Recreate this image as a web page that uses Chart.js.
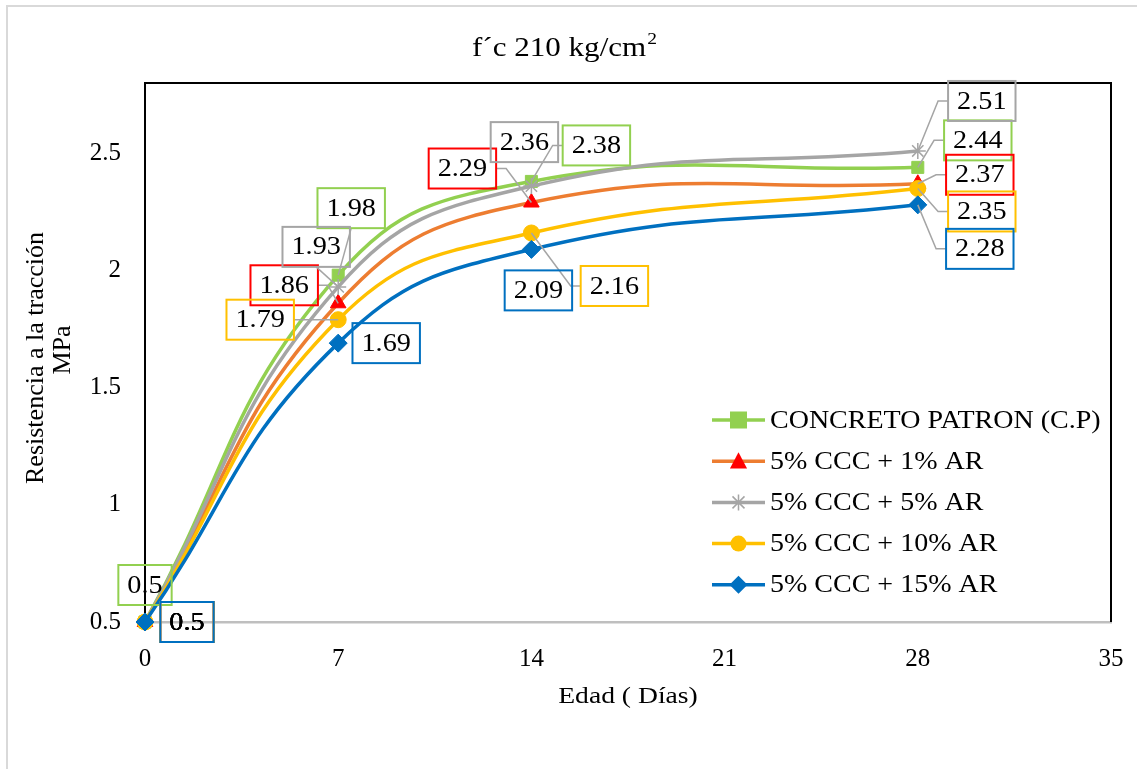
<!DOCTYPE html>
<html>
<head>
<meta charset="utf-8">
<script src="https://cdn.jsdelivr.net/npm/chart.js@4"></script>
<style>
  html,body{margin:0;padding:0;background:#fff;}
  #wrap{width:1137px;height:769px;position:relative;}
</style>
</head>
<body>
<div id="wrap"><canvas id="c" width="1137" height="769"></canvas></div>
<script>
// ---------- DATA ----------
const ages = [0, 7, 14, 28];
const seriesNames = ["CONCRETO PATRON (C.P)", "5% CCC + 1% AR", "5% CCC + 5% AR", "5% CCC + 10% AR", "5% CCC + 15% AR"];
const cpValues   = [0.5, 1.98, 2.38, 2.44];
const ar1Values  = [0.5, 1.86, 2.29, 2.37];
const ar5Values  = [0.5, 1.93, 2.36, 2.51];
const ar10Values = [0.5, 1.79, 2.16, 2.35];
const ar15Values = [0.5, 1.69, 2.09, 2.28];
const xTicks = [0, 7, 14, 21, 28, 35];
const yTicks = [0.5, 1, 1.5, 2, 2.5];
const titleText = "f´c 210 kg/cm";
const titleSup = "2";
const xTitle = "Edad ( Días)";
const yTitleLines = ["Resistencia a la tracción", "MPa"];

// ---------- STYLES ----------
const FONT = "'Liberation Serif', 'Times New Roman', serif";
const HS = 1.13; // horizontal text stretch seen in the reference
const styles = [
  {line:'#92D050', marker:'#92D050', box:'#92D050', pt:'rect', r:8.5},
  {line:'#ED7D31', marker:'#FF0000', box:'#FF0000', pt:'triangle', r:9},
  {line:'#A5A5A5', marker:'#A5A5A5', box:'#A5A5A5', pt:'star', r:8},
  {line:'#FFC000', marker:'#FFC000', box:'#FFC000', pt:'circle', r:8},
  {line:'#0070C0', marker:'#0070C0', box:'#0070C0', pt:'rectRot', r:9}
];
// label offsets (px) relative to each point: [dx, dy]
const labelOffsets = [
  [[0,-37],[13,-67],[65,-36],[60,-27]],
  [[42,0],[-54,-18],[-69,-34],[62,-9]],
  [[42,0],[-22,-40],[-7,-44],[64,-50]],
  [[42,0],[-78,0],[83,53],[64,23]],
  [[42,0],[48,0],[7,41],[62,44]]
];
const allValues = [cpValues, ar1Values, ar5Values, ar10Values, ar15Values];

const datasets = allValues.map((vals, i) => ({
  label: seriesNames[i],
  data: ages.map((a, j) => ({x: a, y: vals[j]})),
  borderColor: styles[i].line,
  backgroundColor: styles[i].marker,
  pointBackgroundColor: styles[i].marker,
  pointBorderColor: styles[i].marker,
  pointBorderWidth: styles[i].pt === 'star' ? 1.5 : 1,
  pointStyle: styles[i].pt,
  pointRadius: styles[i].r,
  borderWidth: 3.5,
  tension: 0.45,
  clip: false,
  fill: false,
  order: allValues.length - 1 - i
}));

function sText(ctx, text, x, y, size, hs, align, base) {
  ctx.save();
  ctx.translate(x, y);
  ctx.scale(hs, 1);
  ctx.font = size + "px " + FONT;
  ctx.textAlign = align || 'center';
  ctx.textBaseline = base || 'middle';
  ctx.fillText(text, 0, 0);
  ctx.restore();
}

function drawMarker(ctx, style, r, x, y) {
  ctx.save();
  if (style === 'rect') {
    ctx.fillRect(x - r, y - r, 2 * r, 2 * r);
  } else if (style === 'triangle') {
    ctx.beginPath();
    ctx.moveTo(x, y - r);
    ctx.lineTo(x + r * 0.95, y + r * 0.8);
    ctx.lineTo(x - r * 0.95, y + r * 0.8);
    ctx.closePath();
    ctx.fill();
  } else if (style === 'circle') {
    ctx.beginPath();
    ctx.arc(x, y, r, 0, Math.PI * 2);
    ctx.fill();
  } else if (style === 'rectRot') {
    ctx.beginPath();
    ctx.moveTo(x, y - r); ctx.lineTo(x + r, y); ctx.lineTo(x, y + r); ctx.lineTo(x - r, y);
    ctx.closePath();
    ctx.fill();
  } else if (style === 'star') {
    ctx.beginPath();
    ctx.moveTo(x, y - r); ctx.lineTo(x, y + r);
    const k = r * 0.75;
    ctx.moveTo(x - k, y - k); ctx.lineTo(x + k, y + k);
    ctx.moveTo(x - k, y + k); ctx.lineTo(x + k, y - k);
    ctx.stroke();
  }
  ctx.restore();
}

const framePlugin = {
  id: 'frame',
  beforeDraw(chart) {
    const ctx = chart.ctx;
    ctx.save();
    ctx.fillStyle = '#fff';
    ctx.fillRect(0, 0, chart.width, chart.height);
    ctx.strokeStyle = '#D9D9D9';
    ctx.lineWidth = 2;
    ctx.beginPath();
    ctx.moveTo(7, chart.height + 5);
    ctx.lineTo(7, 6);
    ctx.lineTo(chart.width + 5, 6);
    ctx.stroke();
    ctx.restore();
  },
  beforeDatasetsDraw(chart) {
    const ctx = chart.ctx;
    const a = chart.chartArea;
    ctx.save();
    ctx.strokeStyle = '#000';
    ctx.lineWidth = 2;
    ctx.beginPath();
    ctx.moveTo(a.left, a.bottom);
    ctx.lineTo(a.left, a.top);
    ctx.lineTo(a.right, a.top);
    ctx.lineTo(a.right, a.bottom);
    ctx.stroke();
    ctx.restore();
  },
  afterDatasetsDraw(chart) {
    const ctx = chart.ctx;
    ctx.save();
    // labels
    const BH = 40, LS = 25;
    chart.data.datasets.forEach((ds, i) => {
      const meta = chart.getDatasetMeta(i);
      meta.data.forEach((pt, j) => {
        const off = labelOffsets[i][j];
        if (!off) return;
        const txt = String(allValues[i][j]);
        ctx.font = LS + "px " + FONT;
        const BW = ctx.measureText(txt).width * HS + 18;
        const px = pt.x, py = pt.y;
        const cx = px + off[0], cy = py + off[1];
        const l = cx - BW / 2, r = cx + BW / 2, t = cy - BH / 2, b = cy + BH / 2;
        let ax, ay, ex, ey;
        if (px < l) { ax = l; ay = cy; ex = l - 10; ey = cy; }
        else if (px > r) { ax = r; ay = cy; ex = r + 10; ey = cy; }
        else if (py < t) { ax = cx; ay = t; ex = cx; ey = t; }
        else { ax = cx; ay = b; ex = cx; ey = b; }
        const d = Math.hypot(ax - px, ay - py);
        if (d > 25) {
          ctx.strokeStyle = '#A5A5A5';
          ctx.lineWidth = 1.5;
          ctx.beginPath();
          ctx.moveTo(px, py);
          ctx.lineTo(ex, ey);
          ctx.lineTo(ax, ay);
          ctx.stroke();
        }
        ctx.strokeStyle = styles[i].box;
        ctx.lineWidth = 2;
        ctx.strokeRect(l, t, BW, BH);
        ctx.fillStyle = '#000';
        sText(ctx, txt, cx, cy + 1, LS, HS, 'center', 'middle');
      });
    });
    // legend
    const lx0 = 712, lx1 = 765, ly0 = 420, lstep = 41.2;
    chart.data.datasets.forEach((ds, i) => {
      const y = ly0 + i * lstep;
      ctx.strokeStyle = ds.borderColor;
      ctx.lineWidth = 3.5;
      ctx.beginPath();
      ctx.moveTo(lx0, y);
      ctx.lineTo(lx1, y);
      ctx.stroke();
      ctx.fillStyle = ds.pointBackgroundColor;
      ctx.strokeStyle = ds.pointBorderColor;
      ctx.lineWidth = ds.pointBorderWidth;
      drawMarker(ctx, ds.pointStyle, ds.pointRadius, (lx0 + lx1) / 2, y);
      ctx.fillStyle = '#000';
      sText(ctx, ds.label, 770, y + 1, 25, 1.12, 'left', 'middle');
    });
    ctx.restore();
  },
  afterDraw(chart) {
    const ctx = chart.ctx;
    const a = chart.chartArea;
    ctx.save();
    ctx.fillStyle = '#000';
    // title
    ctx.font = "27px " + FONT;
    const w1 = ctx.measureText(titleText).width * 1.15;
    ctx.font = "17px " + FONT;
    const w2 = ctx.measureText(titleSup).width * 1.15;
    const tx = 564 - (w1 + w2) / 2;
    sText(ctx, titleText, tx, 56, 27, 1.15, 'left', 'alphabetic');
    sText(ctx, titleSup, tx + w1 + 1, 44, 17, 1.15, 'left', 'alphabetic');
    // axis titles
    sText(ctx, xTitle, (a.left + a.right) / 2, 697, 24, 1.15, 'center', 'middle');
    ctx.save();
    ctx.translate(36, 358);
    ctx.rotate(-Math.PI / 2);
    ctx.font = "26px " + FONT;
    ctx.textAlign = 'center';
    ctx.textBaseline = 'middle';
    ctx.fillText(yTitleLines[0], 0, 0);
    ctx.fillText(yTitleLines[1], 8, 27);
    ctx.restore();
    ctx.restore();
  }
};

new Chart(document.getElementById('c'), {
  type: 'line',
  data: { datasets },
  options: {
    responsive: false,
    animation: false,
    layout: { padding: { top: 83, right: 26, left: 0, bottom: 0 } },
    plugins: { legend: { display: false }, title: { display: false }, tooltip: { enabled: false } },
    scales: {
      x: {
        type: 'linear', min: 0, max: 35,
        afterBuildTicks: (s) => { s.ticks = xTicks.map(v => ({value: v})); },
        afterFit: (s) => { s.height = 147; s.paddingLeft = 0; s.paddingRight = 0; },
        grid: { display: false, drawTicks: false },
        border: { color: '#BFBFBF', width: 2.5 },
        ticks: { color: '#000', font: { family: FONT, size: 25 }, padding: 22, maxRotation: 0 }
      },
      y: {
        type: 'linear', min: 0.5, max: 2.8,
        afterBuildTicks: (s) => { s.ticks = yTicks.map(v => ({value: v})); },
        afterFit: (s) => { s.width = 145; s.paddingTop = 0; s.paddingBottom = 0; },
        grid: { display: false, drawTicks: false },
        border: { color: '#000', width: 2 },
        ticks: { color: '#000', font: { family: FONT, size: 25 }, padding: 24,
                 callback: (v) => String(v) }
      }
    }
  },
  plugins: [framePlugin]
});
</script>
</body>
</html>
